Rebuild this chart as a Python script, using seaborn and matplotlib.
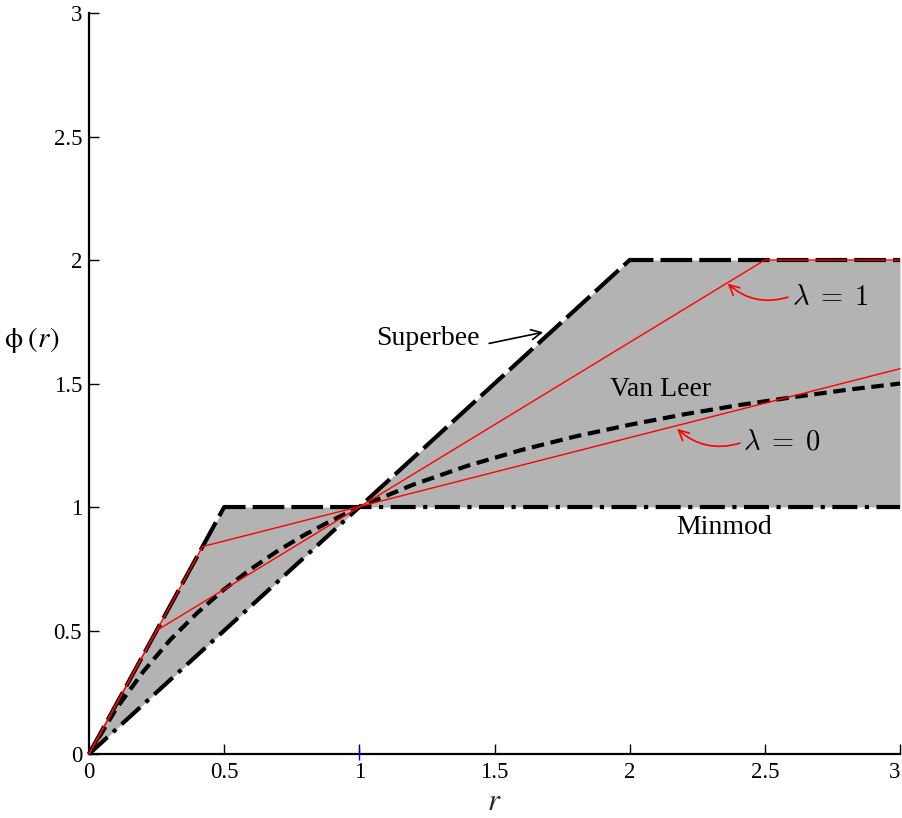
import matplotlib
matplotlib.use("Agg")
import matplotlib.pyplot as plt
import seaborn as sns

# Limiter curves phi(r), given at their breakpoints
r_sb = [0.0, 0.5, 1.0, 2.0, 3.0]
phi_superbee = [0.0, 1.0, 1.0, 2.0, 2.0]
phi_minmod_on_sb = [0.0, 0.5, 1.0, 1.0, 1.0]

r_mm = [0.0, 1.0, 3.0]
phi_minmod = [0.0, 1.0, 1.0]

r_vl = [0.0, 0.1, 0.2, 0.3, 0.4, 0.5, 0.6, 0.7, 0.8, 0.9, 1.0, 1.2, 1.4,
        1.6, 1.8, 2.0, 2.2, 2.4, 2.6, 2.8, 3.0]
phi_vanleer = [0.0, 0.182, 0.333, 0.462, 0.571, 0.667, 0.750, 0.824, 0.889,
               0.947, 1.0, 1.091, 1.167, 1.231, 1.286, 1.333, 1.375, 1.412,
               1.444, 1.474, 1.5]

r_lam1 = [0.0, 0.25, 2.5, 3.0]
phi_lam1 = [0.0, 0.5, 2.0, 2.0]

r_lam0 = [0.0, 0.42, 3.0]
phi_lam0 = [0.0, 0.84, 1.56]

r_marker = [1.0]
phi_marker = [0.0]

ticks = [0, 0.5, 1, 1.5, 2, 2.5, 3]
tick_labels = ["0", "0.5", "1", "1.5", "2", "2.5", "3"]

sns.set_theme(style="white")
plt.rcParams["font.family"] = ["Liberation Serif", "DejaVu Serif"]
plt.rcParams["mathtext.fontset"] = "cm"
plt.rcParams["text.color"] = "black"

fig = plt.figure(figsize=(9.03, 8.18), dpi=100)
ax = fig.add_axes([0.0986, 0.0782, 0.8981, 0.9059])

# TVD region between Minmod and Superbee
ax.fill_between(r_sb, phi_minmod_on_sb, phi_superbee, color="#b3b3b3", lw=0, zorder=1)

sb = sns.lineplot(x=r_sb, y=phi_superbee, ax=ax, color="black", lw=3.0, zorder=3)
sb.lines[-1].set_dashes([7.6, 1.7])
mm = sns.lineplot(x=r_mm, y=phi_minmod, ax=ax, color="black", lw=3.0, zorder=3)
mm.lines[-1].set_dashes([6.0, 1.8, 1.0, 1.8])
vl = sns.lineplot(x=r_vl, y=phi_vanleer, ax=ax, color="black", lw=3.0, zorder=3)
vl.lines[-1].set_dashes([3.0, 1.6])

sns.lineplot(x=r_lam1, y=phi_lam1, ax=ax, color="red", lw=1.0, zorder=4)
sns.lineplot(x=r_lam0, y=phi_lam0, ax=ax, color="red", lw=1.0, zorder=4)

for ln in ax.lines:
    ln.set_clip_on(False)

ax.plot(r_marker, phi_marker, marker="|", color="blue", ms=8, mew=1.0,
        ls="none", clip_on=False, zorder=6)

ax.set_xlim(0, 3)
ax.set_ylim(0, 3)
ax.set_xticks(ticks)
ax.set_xticklabels(tick_labels)
ax.set_yticks(ticks)
ax.set_yticklabels(tick_labels)
ax.tick_params(direction="in", length=7, width=1.0, labelsize=16.5, colors="black",
               bottom=True, left=True)
ax.tick_params(axis="x", pad=6)
ax.tick_params(axis="y", pad=5)
ax.get_xticklabels()[-1].set_horizontalalignment("right")
for side in ["top", "right"]:
    ax.spines[side].set_visible(False)
for side in ["left", "bottom"]:
    ax.spines[side].set_color("black")
    ax.spines[side].set_linewidth(1.6)

ax.set_xlabel("$r$", fontsize=22, labelpad=3, math_fontfamily="stix")
fig.text(0.035, 0.584, r"$\mathrm{\phi}\;(r)$", fontsize=21, ha="center", va="center",
         math_fontfamily="stix")

# Curve labels and pointers
ax.text(1.254, 1.684, "Superbee", fontsize=20, ha="center", va="center")
ax.annotate("", xy=(1.69, 1.71), xytext=(1.47, 1.66),
            arrowprops=dict(arrowstyle="->", color="black", lw=1.2, mutation_scale=18))
ax.text(2.116, 1.474, "Van Leer", fontsize=20, ha="center", va="center")
ax.text(2.349, 0.919, "Minmod", fontsize=20, ha="center", va="center")

ax.text(2.741, 1.845, r"$\lambda\;=\;1$", fontsize=20.5, ha="center", va="center")
ax.annotate("", xy=(2.355, 1.912), xytext=(2.595, 1.853),
            arrowprops=dict(arrowstyle="->", color="red", lw=1.2, mutation_scale=18,
                            connectionstyle="arc3,rad=-0.3"))
ax.text(2.564, 1.258, r"$\lambda\;=\;0$", fontsize=20.5, ha="center", va="center")
ax.annotate("", xy=(2.168, 1.324), xytext=(2.418, 1.262),
            arrowprops=dict(arrowstyle="->", color="red", lw=1.2, mutation_scale=18,
                            connectionstyle="arc3,rad=-0.3"))

fig.savefig("out.png", dpi=100)
